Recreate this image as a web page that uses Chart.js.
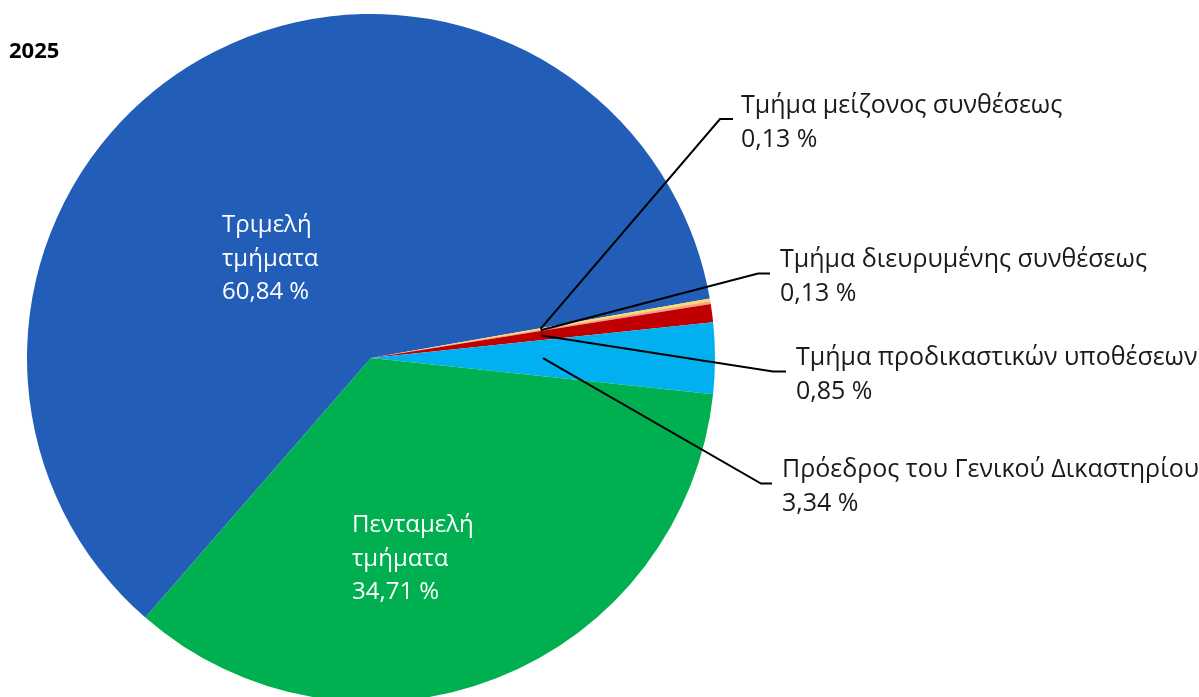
<!DOCTYPE html>
<html>
<head>
<meta charset="utf-8">
<script src="https://cdn.jsdelivr.net/npm/chart.js@4"></script>
<style>
  html, body { margin: 0; padding: 0; background: #fff; overflow: hidden; }
  #wrap { position: relative; width: 1199px; height: 716px; }
  #title { position: absolute; left: 9px; top: 34px; font: bold 22px "Open Sans"; color: #000; }
</style>
</head>
<body>
<div id="wrap">
  <canvas id="courtpie"></canvas>
  <div id="title">2025</div>
</div>
<script>
const categories = [
  'Τριμελή τμήματα',
  'Τμήμα μείζονος συνθέσεως',
  'Τμήμα διευρυμένης συνθέσεως',
  'Τμήμα προδικαστικών υποθέσεων',
  'Πρόεδρος του Γενικού Δικαστηρίου',
  'Πενταμελή τμήματα'
];
const shares = [60.84, 0.13, 0.13, 0.85, 3.34, 34.71];
const colors = ['#225EB8', '#FFD966', '#F4A284', '#C00000', '#00B0F0', '#00B050'];

// where each label sits (inside = white text in the slice, otherwise leader line)
const labelSpots = [
  { inside: true, x: 222, y: 232, lines: ['Τριμελή', 'τμήματα'] },
  { x: 741, y: 113, elbow: [720, 119], end: [733, 119] },
  { x: 780, y: 267, elbow: [758, 273.5], end: [770, 273.5] },
  { x: 796, y: 365, elbow: [773, 371.5], end: [786, 371.5] },
  { x: 782, y: 477, elbow: [761, 483.5], end: [772, 483.5] },
  { inside: true, x: 352, y: 532, lines: ['Πενταμελή', 'τμήματα'] }
];

const pct = v => v.toFixed(2).replace('.', ',') + ' %';

const sliceLabels = {
  id: 'sliceLabels',
  afterDraw(chart) {
    const ctx = chart.ctx;
    const arcs = chart.getDatasetMeta(0).data;
    ctx.save();
    ctx.textBaseline = 'alphabetic';
    ctx.textAlign = 'left';
    labelSpots.forEach((spot, i) => {
      const value = shares[i];
      if (spot.inside) {
        ctx.font = '24px "Open Sans"';
        ctx.fillStyle = '#ffffff';
        const lines = spot.lines.concat([pct(value)]);
        lines.forEach((t, k) => ctx.fillText(t, spot.x, spot.y + k * 33.5));
        return;
      }
      const a = arcs[i].getProps(['x', 'y', 'startAngle', 'endAngle', 'outerRadius'], true);
      const mid = (a.startAngle + a.endAngle) / 2;
      const r = a.outerRadius * 0.5;
      ctx.strokeStyle = '#000';
      ctx.lineWidth = 2;
      ctx.beginPath();
      ctx.moveTo(a.x + Math.cos(mid) * r, a.y + Math.sin(mid) * r);
      ctx.lineTo(spot.elbow[0], spot.elbow[1]);
      ctx.lineTo(spot.end[0], spot.end[1]);
      ctx.stroke();
      ctx.font = '25px "Open Sans"';
      ctx.fillStyle = '#1a1a1a';
      ctx.fillText(categories[i], spot.x, spot.y);
      ctx.fillText(pct(value), spot.x, spot.y + 33.5);
    });
    ctx.restore();
  }
};

new Chart(document.getElementById('courtpie'), {
  type: 'pie',
  data: {
    labels: categories,
    datasets: [{
      data: shares,
      backgroundColor: colors,
      borderWidth: 0
    }]
  },
  options: {
    responsive: true,
    maintainAspectRatio: false,
    animation: false,
    rotation: 221,
    layout: { padding: { left: 27, right: 484, top: 14, bottom: 14 } },
    plugins: {
      legend: { display: false },
      tooltip: { enabled: false }
    }
  },
  plugins: [sliceLabels]
});
</script>
</body>
</html>
